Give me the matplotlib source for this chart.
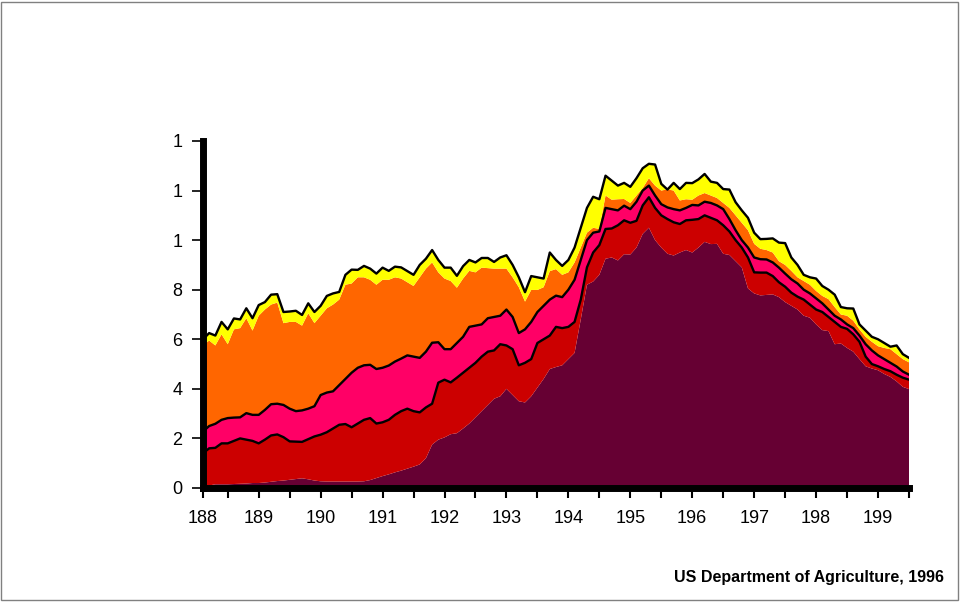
import matplotlib.pyplot as plt
import numpy as np

plt.rcParams['font.family'] = ['Liberation Sans', 'DejaVu Sans']

years = np.arange(1881, 1996)

# cumulative boundaries (top of each band)
total = [6.0, 6.25, 6.15, 6.7, 6.4, 6.84, 6.8, 7.25, 6.85, 7.38,
         7.5, 7.8, 7.82, 7.1, 7.12, 7.15, 6.98, 7.45, 7.1, 7.35,
         7.75, 7.85, 7.91, 8.6, 8.81, 8.8, 8.96, 8.85, 8.65, 8.89,
         8.76, 8.93, 8.9, 8.75, 8.6, 9.0, 9.25, 9.6, 9.2, 8.89,
         8.89, 8.56, 8.95, 9.2, 9.1, 9.28, 9.28, 9.12, 9.3, 9.39,
         9.0, 8.5, 7.9, 8.55, 8.5, 8.45, 9.5, 9.2, 8.96, 9.2,
         9.7, 10.5, 11.3, 11.75, 11.65, 12.6, 12.4, 12.2, 12.31, 12.15,
         12.5, 12.9, 13.08, 13.05, 12.27, 12.04, 12.31, 12.06, 12.31, 12.3,
         12.45, 12.67, 12.36, 12.31, 12.06, 12.04, 11.53, 11.2, 10.9, 10.3,
         10.04, 10.05, 10.07, 9.9, 9.88, 9.3, 9.0, 8.6, 8.5, 8.45,
         8.15, 8.0, 7.8, 7.3, 7.25, 7.24, 6.6, 6.35, 6.1, 6.0,
         5.85, 5.7, 5.75, 5.4, 5.25]

top_orange = [5.75, 5.95, 5.75, 6.2, 5.8, 6.4, 6.45, 6.85, 6.35, 6.95,
              7.2, 7.4, 7.48, 6.65, 6.7, 6.7, 6.55, 7.05, 6.65, 6.95,
              7.25, 7.4, 7.6, 8.2, 8.25, 8.5, 8.5, 8.4, 8.2, 8.4,
              8.4, 8.5, 8.45, 8.3, 8.15, 8.5, 8.85, 9.1, 8.7, 8.45,
              8.35, 8.08, 8.45, 8.76, 8.7, 8.89, 8.87, 8.85, 8.85, 8.85,
              8.5, 8.1, 7.52, 7.99, 7.99, 8.1, 8.75, 8.83, 8.6, 8.7,
              9.1, 9.7, 10.3, 10.5, 10.45, 11.8, 11.63, 11.65, 11.66, 11.5,
              11.8, 12.1, 12.5, 12.2, 12.0, 12.05, 12.0, 11.6, 11.65, 11.63,
              11.8, 11.9, 11.8, 11.7, 11.5, 11.3, 11.0, 10.7, 10.4, 9.85,
              9.65, 9.6, 9.5, 9.15, 9.0, 8.76, 8.5, 8.35, 8.2, 7.95,
              7.75, 7.62, 7.3, 7.0, 6.95, 6.75, 6.4, 6.1, 5.9, 5.72,
              5.65, 5.6, 5.4, 5.2, 5.07]

top_pink = [2.28, 2.5, 2.59, 2.75, 2.82, 2.84, 2.85, 3.02, 2.95, 2.95,
            3.15, 3.38, 3.4, 3.35, 3.2, 3.1, 3.13, 3.2, 3.3, 3.75,
            3.85, 3.9, 4.15, 4.4, 4.65, 4.85, 4.95, 4.97, 4.8, 4.85,
            4.94, 5.1, 5.22, 5.35, 5.3, 5.25, 5.5, 5.86, 5.88, 5.6,
            5.6, 5.85, 6.1, 6.5, 6.55, 6.6, 6.85, 6.9, 6.95, 7.2,
            6.9, 6.25, 6.4, 6.7, 7.1, 7.35, 7.6, 7.76, 7.7, 8.0,
            8.4, 9.2, 10.0, 10.3, 10.35, 11.3, 11.25, 11.2, 11.39, 11.25,
            11.55, 12.0, 12.2, 11.8, 11.45, 11.32, 11.25, 11.2, 11.3, 11.42,
            11.4, 11.55, 11.5, 11.4, 11.25, 10.85, 10.4, 10.0, 9.7, 9.3,
            9.23, 9.22, 9.1, 8.89, 8.65, 8.42, 8.25, 8.0, 7.85, 7.65,
            7.45, 7.2, 6.95, 6.8, 6.6, 6.45, 6.15, 5.8, 5.55, 5.35,
            5.2, 5.05, 4.9, 4.7, 4.57]

top_red = [1.4, 1.6, 1.62, 1.8, 1.8, 1.9, 2.0, 1.95, 1.9, 1.8,
           1.95, 2.12, 2.16, 2.05, 1.88, 1.87, 1.86, 1.97, 2.08, 2.15,
           2.25, 2.4, 2.55, 2.58, 2.45, 2.6, 2.75, 2.82, 2.6, 2.65,
           2.75, 2.95, 3.1, 3.2, 3.1, 3.05, 3.25, 3.4, 4.25, 4.37,
           4.26, 4.45, 4.65, 4.85, 5.05, 5.3, 5.5, 5.55, 5.8, 5.75,
           5.6, 4.95, 5.05, 5.2, 5.85, 6.0, 6.15, 6.5, 6.45, 6.5,
           6.7, 7.6, 8.9, 9.5, 9.8, 10.45, 10.47, 10.6, 10.8, 10.7,
           10.78, 11.4, 11.73, 11.3, 11.0, 10.85, 10.72, 10.65, 10.8, 10.82,
           10.85, 11.0, 10.9, 10.8, 10.6, 10.35, 10.0, 9.7, 9.3, 8.7,
           8.69, 8.69, 8.55, 8.3, 8.12, 7.88, 7.72, 7.6, 7.4, 7.2,
           7.1, 6.9, 6.7, 6.5, 6.42, 6.2, 5.9, 5.3, 5.0, 4.91,
           4.8, 4.71, 4.57, 4.45, 4.37]

top_maroon = [0.05, 0.1, 0.15, 0.15, 0.15, 0.16, 0.17, 0.18, 0.2, 0.2,
              0.22, 0.25, 0.28, 0.3, 0.33, 0.36, 0.39, 0.35, 0.3, 0.27,
              0.26, 0.26, 0.26, 0.26, 0.26, 0.26, 0.27, 0.32, 0.4, 0.48,
              0.55, 0.63, 0.7, 0.78, 0.86, 0.95, 1.2, 1.75, 1.95, 2.04,
              2.17, 2.21, 2.4, 2.6, 2.85, 3.1, 3.35, 3.6, 3.7, 4.0,
              3.75, 3.5, 3.45, 3.7, 4.05, 4.4, 4.8, 4.88, 4.95, 5.2,
              5.45, 6.8, 8.2, 8.33, 8.6, 9.25, 9.3, 9.18, 9.43, 9.42,
              9.7, 10.25, 10.5, 10.0, 9.7, 9.45, 9.38, 9.5, 9.6, 9.5,
              9.7, 9.93, 9.84, 9.85, 9.45, 9.4, 9.15, 8.9, 8.05, 7.85,
              7.77, 7.79, 7.81, 7.7, 7.5, 7.35, 7.2, 6.95, 6.87, 6.6,
              6.37, 6.33, 5.8, 5.83, 5.65, 5.5, 5.2, 4.91, 4.82, 4.75,
              4.6, 4.48, 4.3, 4.08, 3.99]

x_ticks = [1881, 1890, 1900, 1910, 1920, 1930, 1940, 1950, 1960, 1970, 1980, 1990]
x_labels = ['188', '189', '190', '191', '192', '193', '194', '195', '196', '197', '198', '199']
y_ticks = [0, 2, 4, 6, 8, 10, 12, 14]
y_labels = ['0', '2', '4', '6', '8', '1', '1', '1']

total = np.array(total)
top_orange = np.array(top_orange)
top_pink = np.array(top_pink)
top_red = np.array(top_red)
top_maroon = np.array(top_maroon)

layers = [top_maroon,
          top_red - top_maroon,
          top_pink - top_red,
          top_orange - top_pink,
          total - top_orange]
colors = ['#660033', '#CC0000', '#FF0066', '#FF6600', '#FFFF00']

fig = plt.figure(figsize=(9.61, 6.02), dpi=100)
ax = fig.add_axes([0.2112, 0.1894, 0.7347, 0.5764])

ax.stackplot(years, layers, colors=colors, linewidth=0, zorder=1)
for line in (total, top_pink, top_red):
    ax.plot(years, line, color='black', lw=1.7, zorder=2)

ax.set_xlim(1881, 1995)
ax.set_ylim(0, 14)

for s in ('top', 'right'):
    ax.spines[s].set_visible(False)
ax.spines['left'].set_linewidth(5)
ax.spines['bottom'].set_linewidth(5)

ax.set_yticks(y_ticks)
ax.set_yticklabels(y_labels)
ax.set_xticks(list(range(1885, 1996, 5)), minor=True)
ax.set_xticks(x_ticks)
ax.set_xticklabels(x_labels)
ax.tick_params(axis='y', length=8, width=1.2, labelsize=13, pad=7)
ax.tick_params(axis='x', which='both', length=7, width=1.5, labelsize=13, pad=9)

fig.text(0.982, 0.040, 'US Department of Agriculture, 1996', ha='right', va='center',
         fontsize=11.5, fontweight='bold')

fig.patches.append(plt.Rectangle((0.001, 0.003), 0.996, 0.994, transform=fig.transFigure,
                                 fill=False, edgecolor='#808080', lw=1))

fig.savefig('out.png', dpi=100)
